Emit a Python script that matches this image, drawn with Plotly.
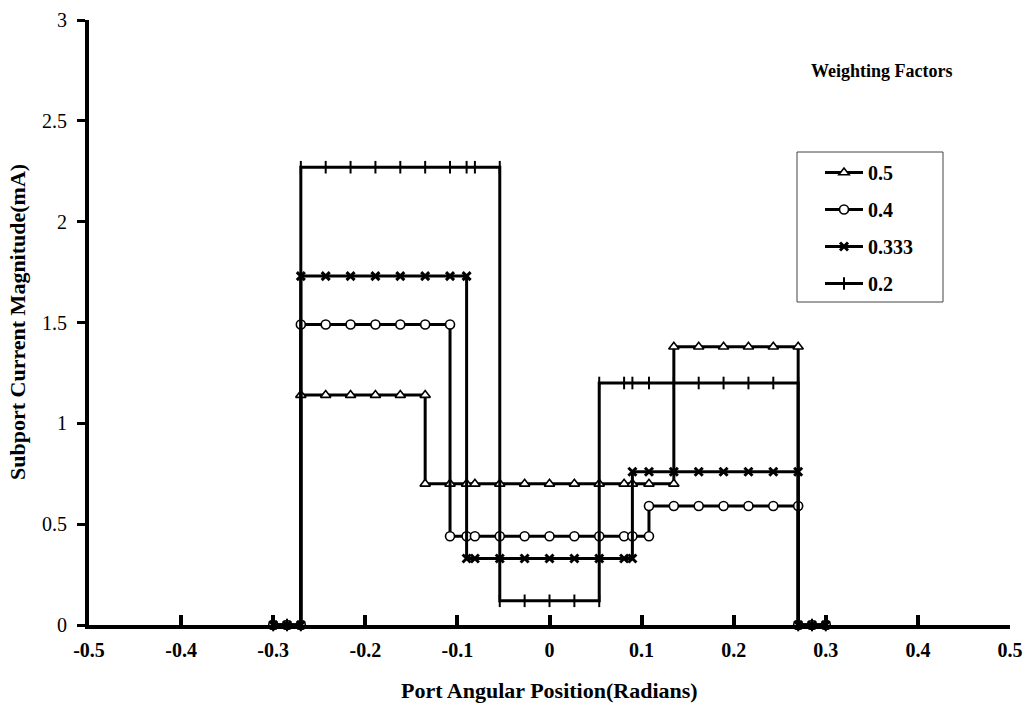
import plotly.graph_objects as go

# ---- data ----
names = ["0.5", "0.4", "0.333", "0.2"]

x_05 = [-0.3, -0.285, -0.27, -0.27, -0.243, -0.216, -0.189, -0.162, -0.135,
        -0.135, -0.108, -0.09, -0.081, -0.054, -0.027, 0.0, 0.027, 0.054, 0.081, 0.09, 0.108, 0.135,
        0.135, 0.162, 0.189, 0.216, 0.243, 0.27, 0.27, 0.285, 0.3]
y_05 = [0, 0, 0, 1.14, 1.14, 1.14, 1.14, 1.14, 1.14,
        0.70, 0.70, 0.70, 0.70, 0.70, 0.70, 0.70, 0.70, 0.70, 0.70, 0.70, 0.70, 0.70,
        1.38, 1.38, 1.38, 1.38, 1.38, 1.38, 0, 0, 0]

x_04 = [-0.3, -0.285, -0.27, -0.27, -0.243, -0.216, -0.189, -0.162, -0.135, -0.108,
        -0.108, -0.09, -0.081, -0.054, -0.027, 0.0, 0.027, 0.054, 0.081, 0.09, 0.108,
        0.108, 0.135, 0.162, 0.189, 0.216, 0.243, 0.27, 0.27, 0.285, 0.3]
y_04 = [0, 0, 0, 1.49, 1.49, 1.49, 1.49, 1.49, 1.49, 1.49,
        0.44, 0.44, 0.44, 0.44, 0.44, 0.44, 0.44, 0.44, 0.44, 0.44, 0.44,
        0.59, 0.59, 0.59, 0.59, 0.59, 0.59, 0.59, 0, 0, 0]

x_0333 = [-0.3, -0.285, -0.27, -0.27, -0.243, -0.216, -0.189, -0.162, -0.135, -0.108, -0.09,
          -0.09, -0.081, -0.054, -0.027, 0.0, 0.027, 0.054, 0.081, 0.09,
          0.09, 0.108, 0.135, 0.162, 0.189, 0.216, 0.243, 0.27, 0.27, 0.285, 0.3]
y_0333 = [0, 0, 0, 1.73, 1.73, 1.73, 1.73, 1.73, 1.73, 1.73, 1.73,
          0.33, 0.33, 0.33, 0.33, 0.33, 0.33, 0.33, 0.33, 0.33,
          0.76, 0.76, 0.76, 0.76, 0.76, 0.76, 0.76, 0.76, 0, 0, 0]

x_02 = [-0.3, -0.285, -0.27, -0.27, -0.243, -0.216, -0.189, -0.162, -0.135, -0.108, -0.09, -0.081, -0.054,
        -0.054, -0.027, 0.0, 0.027, 0.054,
        0.054, 0.081, 0.09, 0.108, 0.135, 0.162, 0.189, 0.216, 0.243, 0.27, 0.27, 0.285, 0.3]
y_02 = [0, 0, 0, 2.27, 2.27, 2.27, 2.27, 2.27, 2.27, 2.27, 2.27, 2.27, 2.27,
        0.12, 0.12, 0.12, 0.12, 0.12,
        1.20, 1.20, 1.20, 1.20, 1.20, 1.20, 1.20, 1.20, 1.20, 1.20, 0, 0, 0]

x_tickvals = [-0.5, -0.4, -0.3, -0.2, -0.1, 0.0, 0.1, 0.2, 0.3, 0.4, 0.5]
x_ticktext = ["-0.5", "-0.4", "-0.3", "-0.2", "-0.1", "0", "0.1", "0.2", "0.3", "0.4", "0.5"]
y_tickvals = [0, 0.5, 1, 1.5, 2, 2.5, 3]
y_ticktext = ["0", "0.5", "1", "1.5", "2", "2.5", "3"]

# ---- styles ----
SERIF = "Liberation Serif"
series = [
    (x_05, y_05, dict(symbol="triangle-up", size=9, color="white", line=dict(color="black", width=1.6))),
    (x_04, y_04, dict(symbol="circle", size=9, color="white", line=dict(color="black", width=1.6))),
    (x_0333, y_0333, dict(symbol="x-thin-open", size=8, color="black", line=dict(color="black", width=3))),
    (x_02, y_02, dict(symbol="line-ns-open", size=9, color="black", line=dict(color="black", width=2))),
]

fig = go.Figure()
for name, (xs, ys, mk) in zip(names, series):
    fig.add_trace(go.Scatter(
        x=xs, y=ys, name=name, mode="lines+markers",
        line=dict(color="black", width=3),
        marker=mk, cliponaxis=False, legendgroup=name,
    ))

W, H = 1027, 707
L, R, T, B = 89, 17, 20, 82
pw, ph = W - L - R, H - T - B


def px(xp):
    return (xp - L) / pw


def py(yp):
    return (H - B - yp) / ph


fig.update_layout(
    width=W, height=H,
    margin=dict(l=L, r=R, t=T, b=B, autoexpand=False),
    plot_bgcolor="white", paper_bgcolor="white",
    showlegend=True,
    legend=dict(
        x=px(820), y=py(153), xanchor="left", yanchor="top",
        font=dict(family=SERIF, size=20, color="black", weight="bold"),
        bgcolor="rgba(0,0,0,0)", traceorder="grouped", tracegroupgap=8,
        itemwidth=38,
    ),
    xaxis=dict(
        range=[-0.5, 0.5], tickvals=x_tickvals, ticktext=x_ticktext,
        ticks="inside", ticklen=10, tickwidth=4, tickcolor="black",
        showline=True, linewidth=4, linecolor="black", showgrid=False, zeroline=False,
        tickfont=dict(family=SERIF, size=20, color="black", weight="bold"),
        ticklabelstandoff=4, automargin=False,
    ),
    yaxis=dict(
        range=[0, 3], tickvals=y_tickvals, ticktext=y_ticktext,
        ticks="outside", ticklen=8, tickwidth=3, tickcolor="black",
        showline=True, linewidth=4, linecolor="black", showgrid=False, zeroline=False,
        tickfont=dict(family=SERIF, size=20, color="black"),
        ticklabelstandoff=6, automargin=False,
    ),
    shapes=[dict(type="rect", xref="paper", yref="paper",
                 x0=px(797), x1=px(943), y0=py(302), y1=py(152),
                 line=dict(color="#444", width=1))],
    annotations=[
        dict(text="Port Angular Position(Radians)", xref="paper", yref="paper",
             x=px(549), y=py(690), xanchor="center", yanchor="middle", showarrow=False,
             font=dict(family=SERIF, size=22, color="black", weight="bold")),
        dict(text="Subport Current Magnitude(mA)", xref="paper", yref="paper",
             x=px(17), y=py(322), xanchor="center", yanchor="middle", showarrow=False,
             textangle=-90, font=dict(family=SERIF, size=22, color="black", weight="bold")),
        dict(text="Weighting Factors", xref="paper", yref="paper",
             x=px(882), y=py(71), xanchor="center", yanchor="middle", showarrow=False,
             font=dict(family=SERIF, size=18, color="black", weight="bold")),
    ],
)

fig.write_html("out.html")
